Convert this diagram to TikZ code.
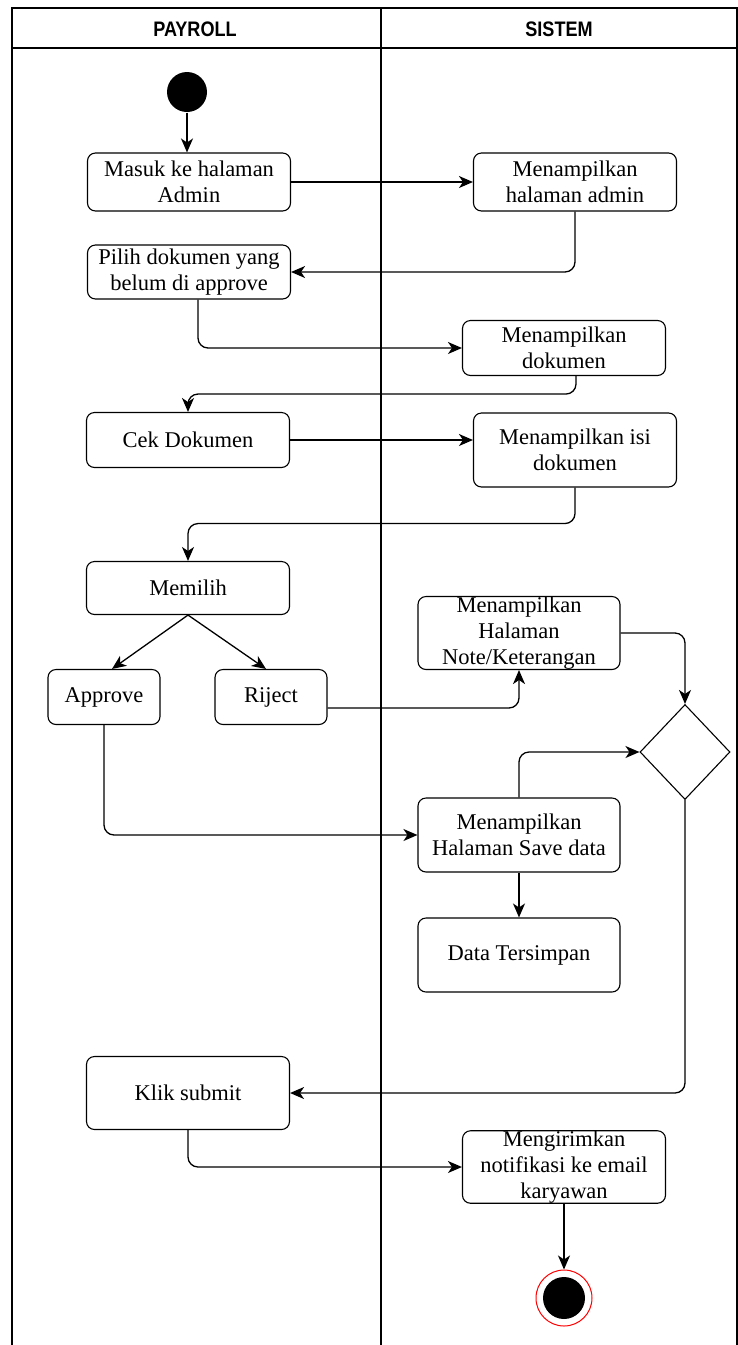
\documentclass[tikz,border=0pt]{standalone}
\usepackage{fontspec}
\setmainfont{Liberation Serif}
\newfontfamily\lanefont[FakeStretch=0.86]{Liberation Sans}
\usetikzlibrary{arrows.meta, positioning, shapes.geometric, calc}
\definecolor{endred}{HTML}{FF0000}

\tikzset{
  act/.style={draw, rounded corners=8pt, minimum width=203pt, align=center, inner sep=0pt,
    line width=1.1pt, font=\fontsize{22.5}{26}\selectfont},
  lane/.style={font=\lanefont\bfseries\fontsize{21}{22}\selectfont},
  flow/.style={-{Stealth[length=14pt, width=12pt, inset=4pt]}, line width=1.3pt, rounded corners=10pt},
}

\begin{document}
\begin{tikzpicture}[x=1pt, y=-1pt, line width=1.3pt]
  \useasboundingbox (0,0) rectangle (738,1345);

  % Swimlane
  \draw (12,1345) -- (12,8) -- (737,8) -- (737,1345);
  \draw (12,48) -- (737,48);
  \draw (381,8) -- (381,1345);
  \node[lane] (lanePayroll) at (195,29) {PAYROLL};
  \node[lane] (laneSistem) at (559,29) {SISTEM};

  % Start
  \node[circle, fill=black, minimum size=40pt, inner sep=0pt] (start) at (187,92) {};

  % Payroll
  \node[act, minimum height=58pt] (masuk) at (189,182) {Masuk ke halaman\\Admin};
  \node[act, minimum height=54pt] (pilih) at (189,272) {Pilih dokumen yang\\belum di approve};
  \node[act, minimum height=55pt] (cek) at (188,440) {Cek Dokumen};
  \node[act, minimum height=53pt] (memilih) at (188,588) {Memilih};
  \node[act, minimum width=112pt, minimum height=55pt] (approve) at (104,697) {Approve};
  \node[act, minimum width=112pt, minimum height=55pt] (riject) at (271,697) {Riject};
  \node[act, minimum height=73pt] (submit) at (188,1093) {Klik submit};

  % Sistem
  \node[act, minimum height=58pt] (tampilAdmin) at (575,182) {Menampilkan\\halaman admin};
  \node[act, minimum height=55pt] (tampilDok) at (564,348) {Menampilkan\\dokumen};
  \node[act, minimum height=74pt] (isiDok) at (575,450) {Menampilkan isi\\dokumen};
  \node[act, minimum width=202pt, minimum height=73pt] (note) at (519,633) {Menampilkan\\Halaman\\Note/Keterangan};
  \node[diamond, draw, line width=1.1pt, minimum width=90pt, minimum height=95pt, inner sep=0pt] (dec) at (685,752) {};
  \node[act, minimum width=202pt, minimum height=74pt] (save) at (519,835) {Menampilkan\\Halaman Save data};
  \node[act, minimum width=202pt, minimum height=74pt] (simpan) at (519,955) {Data Tersimpan};
  \node[act, minimum height=72pt] (kirim) at (564,1167) {Mengirimkan\\notifikasi ke email\\karyawan};

  % End
  \node[circle, draw=endred, fill=white, line width=1pt, minimum size=56pt, inner sep=0pt] (endRing) at (564,1298) {};
  \node[circle, fill=black, minimum size=42pt, inner sep=0pt] (endDot) at (564,1298) {};

  % Alur
  \draw[flow] (start) -- (start |- masuk.north);
  \draw[flow] (masuk) -- (tampilAdmin);
  \draw[flow] (tampilAdmin.south) |- (pilih.east);
  \draw[flow] ([xshift=9pt]pilih.south) |- (tampilDok.west);
  \draw[flow] ([xshift=12pt]tampilDok.south) -- ++(0,18) -| (cek.north);
  \draw[flow] (cek.east) -- (cek.east -| isiDok.west);
  \draw[flow] (isiDok.south) -- ++(0,36) -| (memilih.north);
  \draw[flow] (memilih.south) -- ([xshift=8pt]approve.north);
  \draw[flow] (memilih.south) -- ([xshift=-5pt]riject.north);
  \draw[flow] ([yshift=-11pt]riject.east) -| (note.south);
  \draw[flow] (note.east) -| (dec.north);
  \draw[flow] (approve.south) |- (save.west);
  \draw[flow] (save.north) |- (dec.west);
  \draw[flow] (save) -- (simpan);
  \draw[flow] (dec.south) |- (submit.east);
  \draw[flow] (submit.south) |- (kirim.west);
  \draw[flow] (kirim) -- (endRing);
\end{tikzpicture}
\end{document}
